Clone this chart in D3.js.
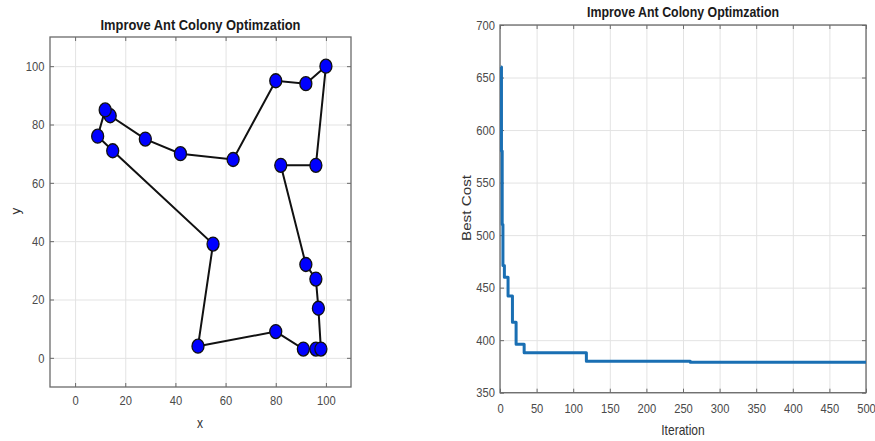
<!DOCTYPE html>
<html>
<head>
<meta charset="utf-8">
<script src="https://cdn.jsdelivr.net/npm/d3@7"></script>
<style>
  html, body { margin: 0; padding: 0; background: #fff; }
  svg { display: block; }
  text { font-family: "Liberation Sans", Arial, sans-serif; }
</style>
</head>
<body>
<svg id="chart" width="875" height="441"></svg>
<script>
// Tour of cities visited in order (x, y), closing back to the first city
const tourX = [100, 92, 80, 63, 42, 28, 14, 12, 9, 15, 55, 49, 80, 91, 96, 98, 97, 96, 92, 82, 96, 100];
const tourY = [100, 94, 95, 68, 70, 75, 83, 85, 76, 71, 39, 4, 9, 3, 3, 3, 17, 27, 32, 66, 66, 100];

// Best cost per iteration, stored at the iterations where it changes
const iterations = [1, 2, 3, 4, 6, 11, 17, 22, 33, 118, 260, 500];
const bestCost = [660, 580, 510, 471, 460, 442, 417, 396, 388, 380, 379, 379];

const tourTicks = [0, 20, 40, 60, 80, 100];
const iterTicks = [0, 50, 100, 150, 200, 250, 300, 350, 400, 450, 500];
const costTicks = [350, 400, 450, 500, 550, 600, 650, 700];

const titleText = "Improve Ant Colony Optimzation";
const svg = d3.select("#chart");

const SX = 0.86; // narrow glyphs horizontally

function squeeze(sel) {
  sel.each(function () {
    const t = d3.select(this);
    const x = +t.attr("x") || 0;
    t.attr("transform", `translate(${x},0) scale(${SX},1) translate(${-x},0)`);
  });
}

function panel(box, xDomain, yDomain, xTicks, yTicks, opts) {
  const g = svg.append("g");
  const x = d3.scaleLinear().domain(xDomain).range([box.left, box.right]);
  const y = d3.scaleLinear().domain(yDomain).range([box.bottom, box.top]);
  const w = box.right - box.left, h = box.bottom - box.top;

  // grid
  g.append("g").attr("transform", `translate(0,${box.bottom})`)
    .call(d3.axisBottom(x).tickValues(xTicks).tickSize(-h).tickFormat(""))
    .call(a => a.select(".domain").remove())
    .call(a => a.selectAll("line").attr("stroke", "#e3e3e3").attr("stroke-width", 1));
  g.append("g").attr("transform", `translate(${box.left},0)`)
    .call(d3.axisLeft(y).tickValues(yTicks).tickSize(-w).tickFormat(""))
    .call(a => a.select(".domain").remove())
    .call(a => a.selectAll("line").attr("stroke", "#e3e3e3").attr("stroke-width", 1));

  const axisColor = "#6a6a6a";
  const labelColor = "#4a4a4a";
  const styleAxis = a => {
    a.select(".domain").remove();
    a.selectAll("line").attr("stroke", axisColor).attr("stroke-width", 1);
    a.selectAll("text").attr("fill", labelColor).style("font-size", "13px");
  };

  const bx = g.append("g").attr("transform", `translate(0,${box.bottom})`)
    .call(d3.axisBottom(x).tickValues(xTicks).tickSizeInner(-4).tickSizeOuter(0).tickPadding(opts.xPad))
    .call(styleAxis);
  bx.selectAll("text").call(squeeze);
  const ly = g.append("g").attr("transform", `translate(${box.left},0)`)
    .call(d3.axisLeft(y).tickValues(yTicks).tickSizeInner(-4).tickSizeOuter(0).tickPadding(opts.yPad))
    .call(styleAxis);
  ly.selectAll("text").call(squeeze);
  g.append("g").attr("transform", `translate(0,${box.top})`)
    .call(d3.axisTop(x).tickValues(xTicks).tickSizeInner(-4).tickSizeOuter(0).tickFormat(""))
    .call(styleAxis);
  g.append("g").attr("transform", `translate(${box.right},0)`)
    .call(d3.axisRight(y).tickValues(yTicks).tickSizeInner(-4).tickSizeOuter(0).tickFormat(""))
    .call(styleAxis);

  g.append("rect")
    .attr("x", box.left).attr("y", box.top).attr("width", w).attr("height", h)
    .attr("fill", "none").attr("stroke", axisColor).attr("stroke-width", 1.3);

  // title
  g.append("text")
    .attr("x", (box.left + box.right) / 2).attr("y", opts.titleY)
    .attr("text-anchor", "middle")
    .attr("textLength", opts.titleLen).attr("lengthAdjust", "spacingAndGlyphs")
    .style("font-size", "14px").style("font-weight", "bold").attr("fill", "#1a1a1a")
    .text(titleText);

  // axis labels
  g.append("text")
    .attr("x", opts.xLabel[0]).attr("y", opts.xLabel[1])
    .attr("text-anchor", "middle").attr("dy", "0.35em")
    .style("font-size", "14px").attr("fill", "#333")
    .text(opts.xLabel[2]).call(squeeze);
  const yl = g.append("text")
    .attr("transform", `translate(${opts.yLabel[0]},${opts.yLabel[1]}) rotate(-90)`)
    .attr("text-anchor", "middle").attr("dy", "0.35em")
    .style("font-size", "13.5px").attr("fill", "#333")
    .text(opts.yLabel[2]);
  if (opts.yLabel[3]) {
    yl.attr("textLength", opts.yLabel[3]).attr("lengthAdjust", "spacingAndGlyphs");
  }

  return { g, x, y };
}

// Left: best tour
const left = panel({ left: 50, right: 351, top: 37, bottom: 387 },
  [-10, 110], [-10, 110], tourTicks, tourTicks,
  { xPad: 9, yPad: 5.5, titleY: 30, titleLen: 200,
    xLabel: [200, 423, "x"], yLabel: [15, 211, "y"] });

const tour = tourX.map((v, i) => [v, tourY[i]]);
left.g.append("path")
  .datum(tour)
  .attr("fill", "none").attr("stroke", "#111").attr("stroke-width", 2)
  .attr("d", d3.line().x(d => left.x(d[0])).y(d => left.y(d[1])));
left.g.selectAll("ellipse.city")
  .data(tour.slice(0, tour.length - 1))
  .join("ellipse").attr("class", "city")
  .attr("cx", d => left.x(d[0])).attr("cy", d => left.y(d[1]))
  .attr("rx", 6).attr("ry", 7)
  .attr("fill", "#0000ff").attr("stroke", "#111").attr("stroke-width", 1.3);

// Right: convergence curve
const right = panel({ left: 500, right: 866, top: 25, bottom: 392.7 },
  [0, 500], [350, 700], iterTicks, costTicks,
  { xPad: 11, yPad: 5, titleY: 17, titleLen: 192,
    xLabel: [683, 430, "Iteration"], yLabel: [466, 208, "Best Cost", 66] });

const conv = iterations.map((v, i) => [v, bestCost[i]]);
right.g.append("path")
  .datum(conv)
  .attr("fill", "none").attr("stroke", "#1a6fb3").attr("stroke-width", 3)
  .attr("stroke-linejoin", "round")
  .attr("d", d3.line().curve(d3.curveStepAfter).x(d => right.x(d[0])).y(d => right.y(d[1])));
</script>
</body>
</html>
